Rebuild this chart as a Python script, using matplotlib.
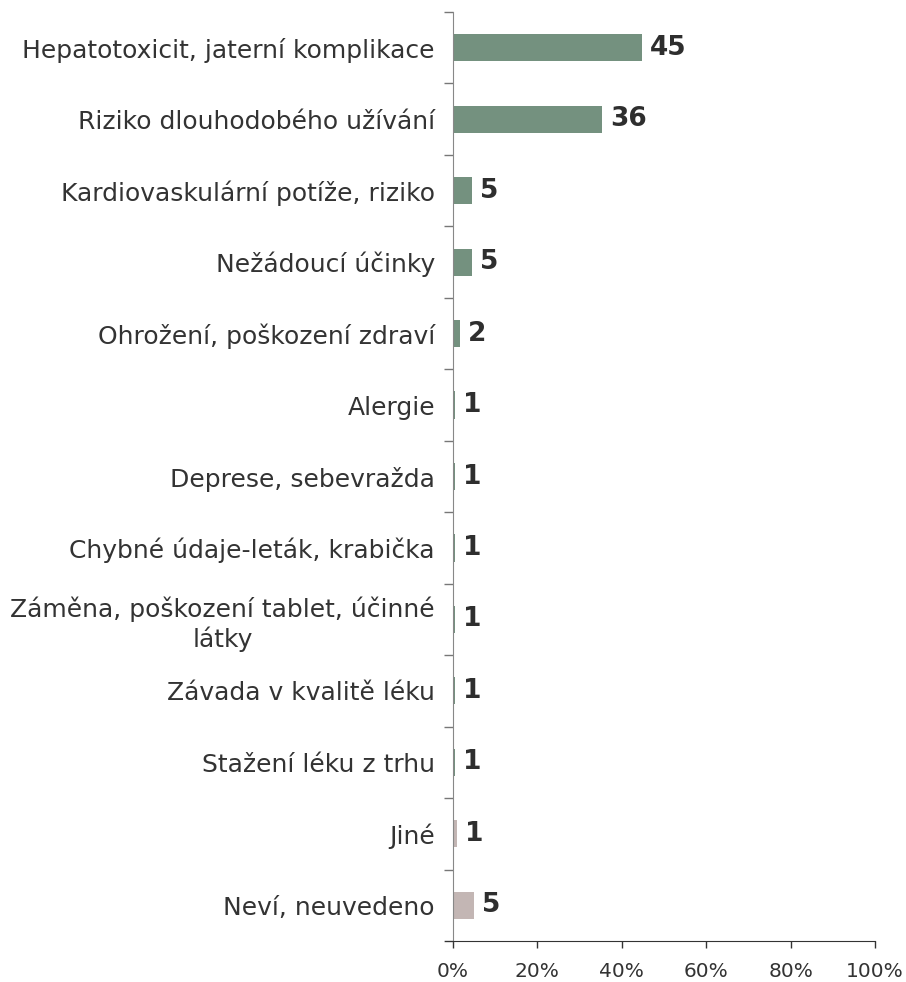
import matplotlib
matplotlib.use("Agg")
import matplotlib.pyplot as plt
import numpy as np

categories = [
    "Hepatotoxicit, jaterní komplikace",
    "Riziko dlouhodobého užívání",
    "Kardiovaskulární potíže, riziko",
    "Nežádoucí účinky",
    "Ohrožení, poškození zdraví",
    "Alergie",
    "Deprese, sebevražda",
    "Chybné údaje-leták, krabička",
    "Záměna, poškození tablet, účinné\nlátky",
    "Závada v kvalitě léku",
    "Stažení léku z trhu",
    "Jiné",
    "Neví, neuvedeno",
]
values = [44.7, 35.4, 4.5, 4.5, 1.7, 0.5, 0.5, 0.5, 0.5, 0.5, 0.5, 1.0, 5.0]
value_labels = ["45", "36", "5", "5", "2", "1", "1", "1", "1", "1", "1", "1", "5"]
groups = ["main"] * 11 + ["other"] * 2
x_ticks = [0, 20, 40, 60, 80, 100]

colors = {"main": "#74917f", "other": "#c3b6b4"}

plt.rcParams["font.family"] = ["DejaVu Sans"]
fig = plt.figure(figsize=(9.06, 9.82), dpi=100)
ax = fig.add_axes([0.5, 1 - 941 / 982, 422 / 906, (941 - 12) / 982])

y = np.arange(len(categories))
ax.barh(y, values, height=0.38, color=[colors[g] for g in groups])
for yi, v, lab in zip(y, values, value_labels):
    ax.text(v + 1.9, yi, lab, va="center", ha="left", fontsize=19,
            fontweight="bold", color="#2e2e2e")

ax.set_xlim(0, 100)
ax.set_ylim(len(categories) - 0.5, -0.5)

ax.set_yticks(np.arange(-0.5, len(categories) + 0.5, 1))
ax.set_yticklabels([])
ax.set_yticks(y, minor=True)
ax.set_yticklabels(categories, minor=True, fontsize=18, color="#333333",
                   multialignment="center")
ax.tick_params(axis="y", which="major", length=6.5, width=1, color="#777777")
ax.tick_params(axis="y", which="minor", length=0, pad=13)

ax.set_xticks(x_ticks)
ax.set_xticklabels([f"{t}%" for t in x_ticks], fontsize=14.5, color="#333333")
ax.tick_params(axis="x", length=5, width=1, color="#333333", pad=10)

for s in ["top", "right"]:
    ax.spines[s].set_visible(False)
ax.spines["left"].set_color("#888888")
ax.spines["bottom"].set_color("#333333")
ax.spines["bottom"].set_bounds(-1.8, 100)

fig.savefig("out.png", dpi=100)
